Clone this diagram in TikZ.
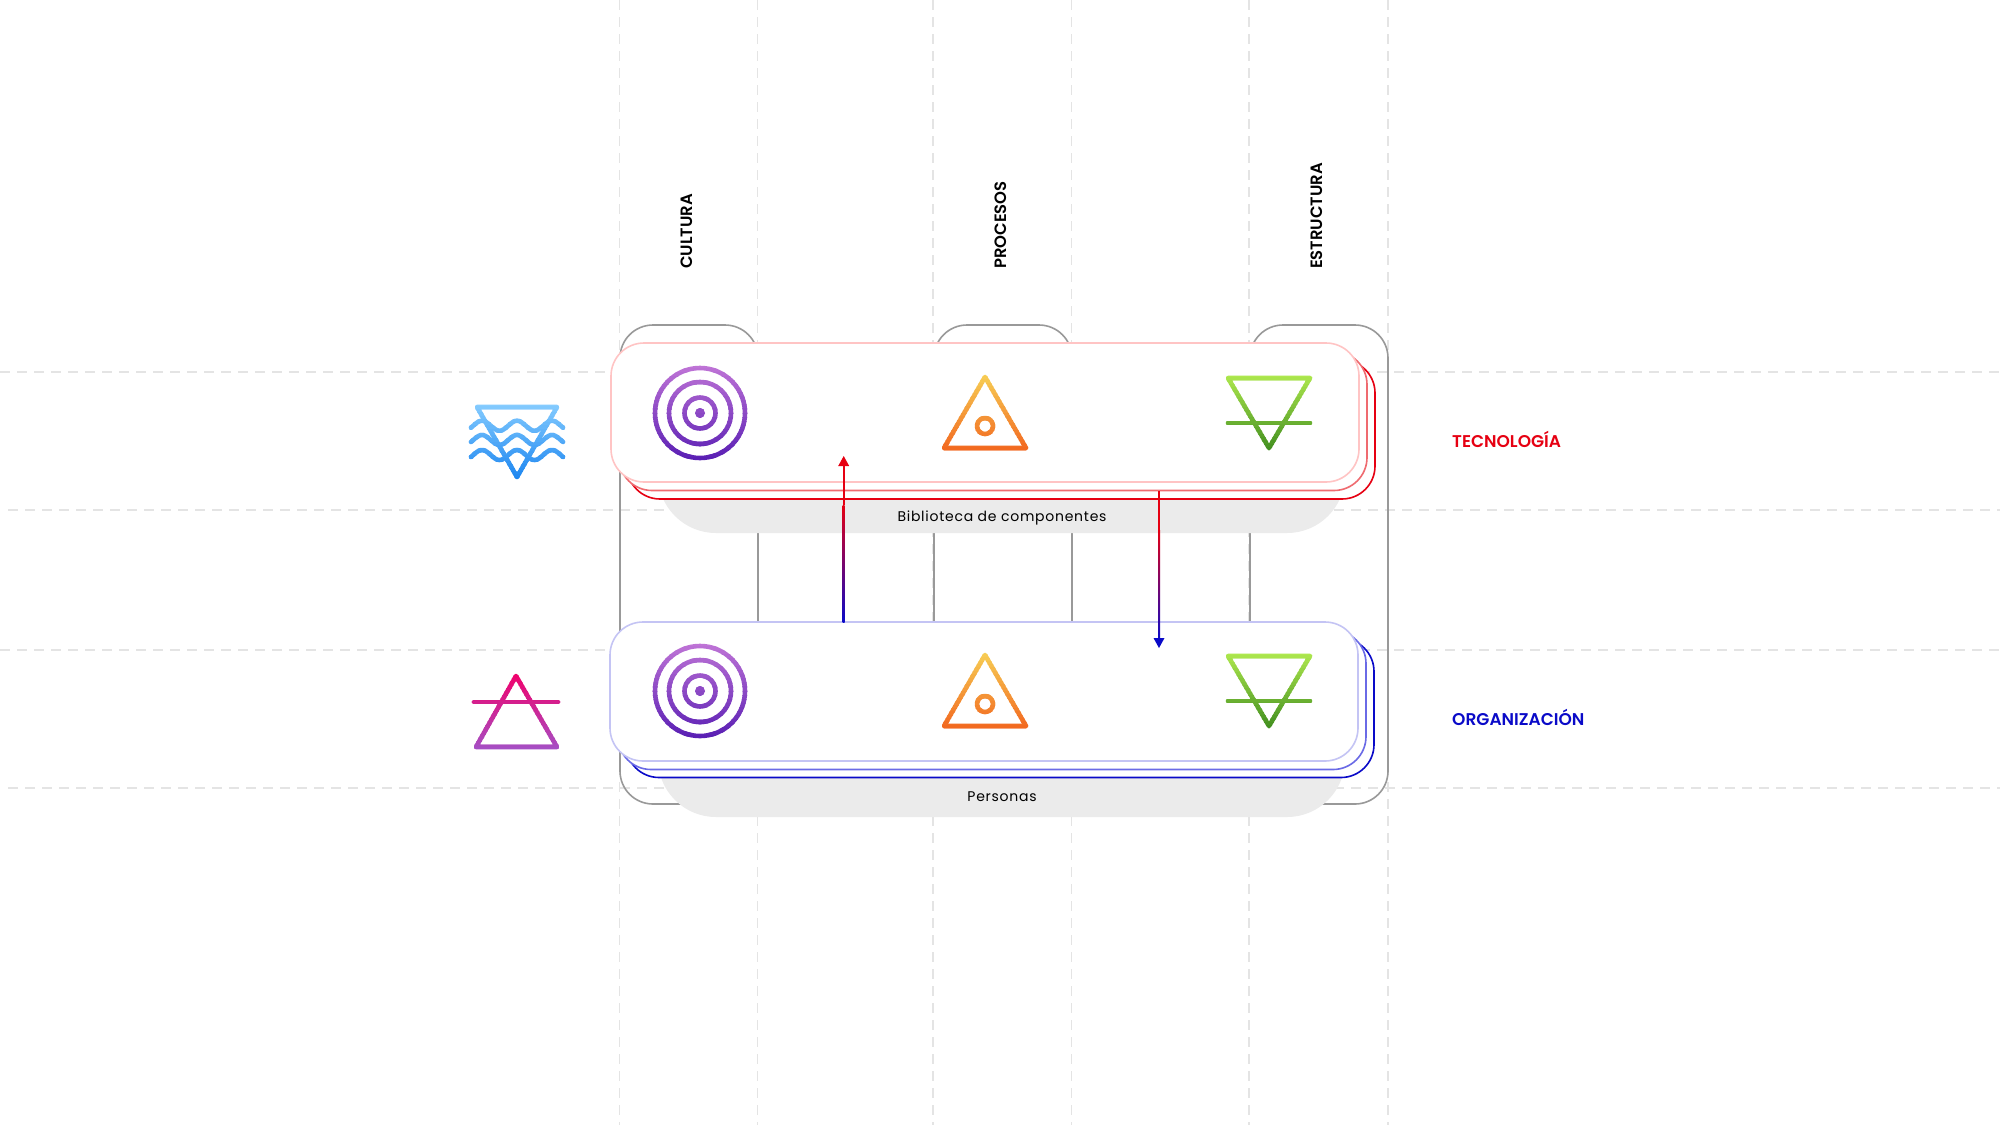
\documentclass[tikz,border=0pt]{standalone}
\usepackage{fontspec}
\setmainfont{Poppins}
\newfontfamily\labelfont[LetterSpace=5.3]{Poppins}
\newfontfamily\headfont[LetterSpace=0]{Poppins SemiBold}
\definecolor{dashgrey}{HTML}{E4E4E4}
\definecolor{framegrey}{HTML}{999999}
\definecolor{shadowgrey}{HTML}{EBEBEB}
\definecolor{redA}{HTML}{E60012}
\definecolor{redB}{HTML}{EF6B70}
\definecolor{redC}{HTML}{FFC4C4}
\definecolor{blueA}{HTML}{0A0AC8}
\definecolor{blueB}{HTML}{6A6AE6}
\definecolor{blueC}{HTML}{C4C4F4}
\newcommand{\gradicon}[6]{%
  \def\giTop{(#1)}\def\giBot{(#2)}\def\giL{#3}\def\giR{#4}\def\giCa{#5}\def\giCb{#6}\gradiconbody}
\newcommand{\gradiconbody}[1]{%
  \foreach \k in {0,...,23}{%
    \pgfmathsetmacro\pc{100-100*\k/23}%
    \pgfmathsetmacro\ya{\giTop+(\giBot-\giTop)*\k/24}%
    \pgfmathsetmacro\yb{\giTop+(\giBot-\giTop)*(\k+1)/24+0.4}%
    \colorlet{gicur}{\giCa!\pc!\giCb}%
    \begin{scope}
      \clip (\giL,\ya) rectangle (\giR,\yb);
      \begin{scope}[draw=gicur,fill=gicur,line width=4.6pt,line cap=round,line join=round]
        #1
      \end{scope}
    \end{scope}
  }}
\tikzset{
  dashline/.style={draw=dashgrey,line width=1.6pt,dash pattern=on 10pt off 7pt},
  colframe/.style={draw=framegrey,line width=1.6pt,rounded corners=33pt},
  softshadow/.style={fill=shadowgrey,draw=none,rounded corners=58pt},
  card/.style={rectangle,rounded corners=33pt,fill=white,line width=1.6pt,inner sep=0pt,minimum width=748pt,minimum height=139pt},
  headlabel/.style={font=\headfont\fontsize{16.4}{19}\selectfont,text=black,inner sep=0pt,rotate=90,anchor=west},
  sidelabel/.style={font=\headfont\fontsize{17}{20}\selectfont,inner sep=0pt,anchor=west},
  caption/.style={font=\labelfont\fontsize{14}{17}\selectfont,text=black,inner sep=0pt}
}
\newcommand{\targeticon}[2]{%
  \gradicon{#2-49}{#2+49}{#1-49}{#1+49}{targetTop}{targetBot}{%
    \draw (#1,#2) circle[radius=45];
    \draw (#1,#2) circle[radius=31];
    \draw (#1,#2) circle[radius=15.5];
    \fill (#1,#2) circle[radius=5];
  }}
\newcommand{\fireicon}[2]{%
  \gradicon{#2-5}{#2+76}{#1-48}{#1+48}{fireTop}{fireBot}{%
    \draw (#1,#2-1) -- (#1+41,#2+70) -- (#1-41,#2+70) -- cycle;
    \draw (#1,#2+48) circle[radius=8];
  }}
\newcommand{\earthicon}[2]{%
  \gradicon{#2-4}{#2+76}{#1-48}{#1+48}{earthTop}{earthBot}{%
    \draw (#1-41,#2) -- (#1+41,#2) -- (#1,#2+70) -- cycle;
    \draw (#1-41,#2+45) -- (#1+41,#2+45);
  }}
\definecolor{targetTop}{HTML}{BF74D6}
\definecolor{targetBot}{HTML}{5A1FB4}
\definecolor{fireTop}{HTML}{F7CF55}
\definecolor{fireBot}{HTML}{F2651E}
\definecolor{earthTop}{HTML}{AEE84E}
\definecolor{earthBot}{HTML}{3F8C1E}
\definecolor{waterTop}{HTML}{86CCFF}
\definecolor{waterBot}{HTML}{1C86F0}
\definecolor{airTop}{HTML}{F2006A}
\definecolor{airBot}{HTML}{A64EC4}
\begin{document}
\begin{tikzpicture}[x=1pt,y=-1pt]
\useasboundingbox (0,0) rectangle (2000,1125);
\fill[white] (0,0) rectangle (2000,1125);
% dashed grid
\foreach \xx in {619.5,757.5,933,1071.5,1249,1388}{
  \draw[dashline] (\xx,0) -- (\xx,1125);
}
\draw[dashline] (0,372) -- (2000,372);
\foreach \yy in {510,788}{
  \draw[dashline] (8,\yy) -- (2000,\yy);
}
\draw[dashline] (0,650) -- (2000,650);
% columns
\foreach \l/\r in {620/758,934/1072,1250/1388}{
  \draw[colframe] (\l,804) rectangle (\r,325);
}
% grey tabs
\fill[softshadow] (658,440) rectangle (1345,533);
\fill[softshadow] (658,720) rectangle (1345,817);
\node[caption] (libro) at (1002,517.5) {Biblioteca de componentes};
\node[caption] (personas) at (1002,797) {Personas};
% red cards
\node[card,draw=redA] (redback) at (1001,429.5) {};
\node[card,draw=redB] (redmid) at (993,421) {};
\node[card,draw=redC] (redfront) at (985,412.5) {};
% blue cards
\node[card,draw=blueA] (blueback) at (1000,708) {};
\node[card,draw=blueB] (bluemid) at (992,700) {};
\node[card,draw=blueC] (bluefront) at (984,691.5) {};
% arrows
\coordinate (uptip) at (843.7,456);
\coordinate (downtip) at (1159,648);
\fill[redA] (842.7,464) rectangle (844.7,505);
\shade[top color=redA,bottom color=blueA] (842.7,505) rectangle (844.7,622);
\fill[redA] (uptip) -- ++(5.5,10) -- ++(-11,0) -- cycle;
\fill[redA] (1158,491) rectangle (1160,530);
\shade[top color=redA,bottom color=blueA] (1158,530) rectangle (1160,640);
\fill[blueA] (downtip) -- ++(5.5,-10) -- ++(-11,0) -- cycle;
% water icon
\gradicon{403}{481}{464}{570}{waterTop}{waterBot}{%
  \draw (477,407) -- (557,407) -- (517,477) -- cycle;
  \foreach \wy in {425.7,440,455}{
    \draw plot[smooth,domain=471:563,samples=47] (\x,{\wy-5*cos(360/35*(\x-517))});
  }
}
% air icon
\gradicon{672}{751}{468}{564}{airTop}{airBot}{%
  \draw (516,676) -- (557,747) -- (476,747) -- cycle;
  \draw (474,702) -- (558,702);
}
\targeticon{700}{413}
\targeticon{700}{691}
\fireicon{985}{378}
\fireicon{985}{656}
\earthicon{1269}{378}
\earthicon{1269}{656}
% headings
\node[headlabel] (cultura) at (686.5,269) {CULTURA};
\node[headlabel] (procesos) at (1000.5,269) {PROCESOS};
\node[headlabel] (estructura) at (1316.5,269) {ESTRUCTURA};
\node[sidelabel,text=redA] (tec) at (1452,439) {TECNOLOGÍA};
\node[sidelabel,text=blueA] (org) at (1452,717) {ORGANIZACIÓN};
\end{tikzpicture}
\end{document}
